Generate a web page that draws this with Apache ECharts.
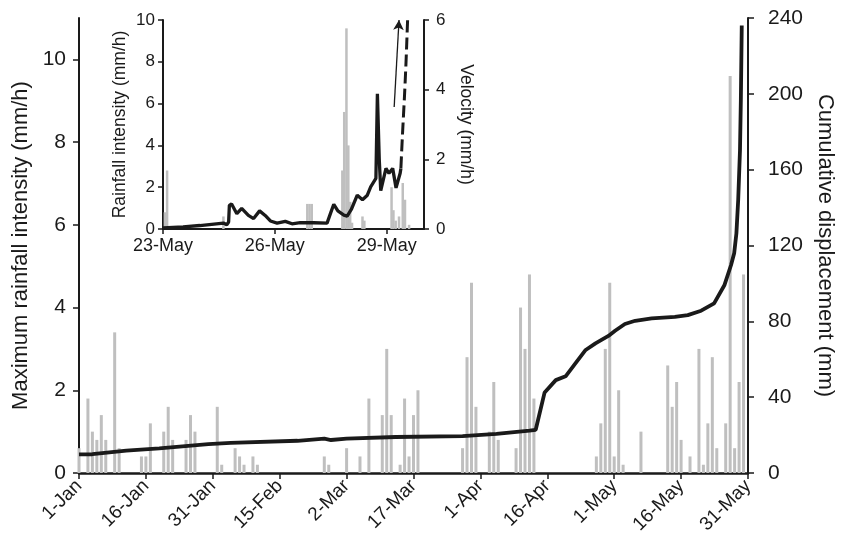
<!DOCTYPE html>
<html>
<head>
<meta charset="utf-8">
<script src="https://cdn.jsdelivr.net/npm/echarts@6/dist/echarts.min.js"></script>
<style>
  html, body { margin: 0; padding: 0; background: #fff; }
  #c { width: 844px; height: 543px; }
</style>
</head>
<body>
<div id="c"></div>
<script>
// ---- Main chart: daily maximum rainfall intensity (day of year, from 1 Jan) ----
const rainDay = [0, 2, 3, 4, 5, 6, 8, 9, 14, 15, 16, 19, 20, 21, 24, 25, 26, 31, 32, 35, 36, 37, 39, 40,
  55, 56, 60, 63, 65, 68, 69, 70, 72, 73, 74, 75, 76, 86, 87, 88, 89, 92, 93, 94, 98, 99, 100, 101, 102,
  116, 117, 118, 119, 120, 121, 122, 126, 132, 133, 134, 135, 137, 139, 140, 141, 142, 143, 145, 146, 147, 148, 149];
const rainMax = [0.6, 1.8, 1.0, 0.8, 1.4, 0.8, 3.4, 0.6, 0.4, 0.4, 1.2, 1.0, 1.6, 0.8, 0.8, 1.4, 1.0, 1.6, 0.2, 0.6, 0.4, 0.2, 0.4, 0.2,
  0.4, 0.2, 0.6, 0.4, 1.8, 1.4, 3.0, 1.4, 0.2, 1.8, 0.4, 1.4, 2.0, 0.6, 2.8, 4.6, 1.6, 1.0, 2.2, 0.8, 0.6, 4.0, 3.0, 4.8, 1.8,
  0.4, 1.2, 3.0, 4.6, 0.4, 2.0, 0.2, 1.0, 2.6, 1.6, 2.2, 0.8, 0.4, 3.0, 0.2, 1.2, 2.8, 0.6, 1.2, 9.6, 0.6, 2.2, 4.8];

// Cumulative displacement (mm)
const dispDay = [0, 3, 10.6, 18, 29, 34, 49, 55, 56.5, 60, 71, 86, 93.6, 101, 102.4, 104.4, 106.9, 109.1, 111.3, 113.6,
  115.8, 118.7, 120.2, 122.4, 124.7, 128.4, 133.6, 136.5, 139.5, 142.4, 144.7, 146.2, 146.9, 147.4, 147.8, 148.2, 148.4, 148.6];
const dispMm = [9.8, 9.9, 11.8, 13, 15.2, 15.9, 17, 18.1, 17.4, 18.1, 19, 19.5, 20.6, 22.4, 22.8, 42.5, 49, 51, 57.8, 64.9,
  68.4, 72.3, 75, 78.6, 80.3, 81.6, 82.4, 83.3, 85.6, 89.5, 99, 109.7, 115.9, 126.4, 144, 170, 197, 236];

const dateTicks = ['1-Jan', '16-Jan', '31-Jan', '15-Feb', '2-Mar', '17-Mar', '1-Apr', '16-Apr', '1-May', '16-May', '31-May'];

// ---- Inset: hourly rainfall and velocity (days after 23 May, 00:00) ----
const insetRainDay = [0.05, 0.11, 1.62, 3.87, 3.93, 3.99, 4.81, 4.86, 4.92, 4.97, 5.02, 5.07, 5.35, 5.40,
  6.13, 6.18, 6.24, 6.33, 6.43, 6.49, 6.60];
const insetRainVal = [0.8, 2.8, 0.6, 1.2, 1.2, 1.2, 2.8, 5.6, 9.6, 4.0, 1.3, 0.3, 0.6, 0.4,
  2.0, 0.9, 0.4, 0.6, 2.2, 1.4, 0.2];

const velDay = [0, 0.54, 0.99, 1.62, 1.71, 1.76, 1.78, 1.84, 1.89, 1.98, 2.11, 2.29, 2.43, 2.59, 2.74, 2.88, 3.06, 3.28,
  3.46, 3.68, 4.04, 4.4, 4.49, 4.58, 4.69, 4.85, 4.94, 5.05, 5.21, 5.35, 5.48, 5.57, 5.71, 5.75, 5.80, 5.84, 5.88, 5.98,
  6.06, 6.16, 6.25, 6.36, 6.38];
const velVal = [0.03, 0.06, 0.1, 0.17, 0.12, 0.2, 0.68, 0.72, 0.71, 0.44, 0.59, 0.39, 0.3, 0.52, 0.39, 0.23, 0.17, 0.22,
  0.15, 0.18, 0.18, 0.17, 0.44, 0.71, 0.52, 0.40, 0.37, 0.56, 0.97, 0.84, 0.97, 1.21, 1.45, 3.88, 2.0, 1.1, 1.06, 1.74,
  1.6, 1.74, 1.18, 1.6, 1.74];
// Extrapolated acceleration (dashed)
const velDashDay = [6.38, 6.42, 6.48, 6.52, 6.56];
const velDashVal = [1.74, 2.65, 3.89, 4.85, 6.0];
// Arrow marking the accelerating trend
const arrowFrom = [6.2, 3.5];
const arrowTo = [6.33, 6.0];

const insetTicks = ['23-May', '26-May', '29-May'];

const zip = (a, b) => a.map((v, i) => [v, b[i]]);

const FONT = '"Liberation Sans", Arial, sans-serif';
const INK = '#1a1a1a';
const BAR = '#bfbfbf';

const axisLineStyle = (w) => ({ show: true, lineStyle: { color: INK, width: w } });
const tick = (len) => ({ show: true, length: len, lineStyle: { color: INK, width: 1.5 } });

const chart = echarts.init(document.getElementById('c'));
chart.setOption({
  animation: false,
  backgroundColor: '#fff',
  textStyle: { fontFamily: FONT, color: INK },
  grid: [
    { left: 79, right: 90, top: 18, bottom: 70 },
    { left: 163, right: 420, top: 20, bottom: 314 }
  ],
  xAxis: [
    {
      gridIndex: 0, type: 'value', min: 0, max: 150, interval: 15,
      axisLine: axisLineStyle(2.5), axisTick: tick(6), splitLine: { show: false },
      axisLabel: {
        rotate: 45, margin: 10, fontSize: 19, color: INK, fontFamily: FONT,
        formatter: (v) => dateTicks[Math.round(v / 15)] || ''
      }
    },
    {
      gridIndex: 1, type: 'value', min: 0, max: 7,
      axisLine: axisLineStyle(2), splitLine: { show: false },
      axisTick: { show: true, length: 5, lineStyle: { color: INK, width: 1.5 }, customValues: [0, 3, 6] },
      axisLabel: {
        margin: 8, fontSize: 18, color: INK, fontFamily: FONT, customValues: [0, 3, 6],
        formatter: (v) => insetTicks[Math.round(v / 3)] || ''
      }
    }
  ],
  yAxis: [
    {
      gridIndex: 0, type: 'value', position: 'left', min: 0, max: 11,
      name: 'Maximum rainfall intensity (mm/h)', nameLocation: 'middle', nameGap: 40, nameRotate: 90,
      nameTextStyle: { fontSize: 22, color: INK, fontFamily: FONT },
      axisLine: axisLineStyle(2), splitLine: { show: false },
      axisTick: { show: true, length: 6, lineStyle: { color: INK, width: 1.5 }, customValues: [0, 2, 4, 6, 8, 10] },
      axisLabel: { margin: 13, fontSize: 21, color: INK, fontFamily: FONT, customValues: [0, 2, 4, 6, 8, 10] }
    },
    {
      gridIndex: 0, type: 'value', position: 'right', min: 0, max: 240, interval: 40,
      name: 'Cumulative displacement (mm)', nameLocation: 'middle', nameGap: 66, nameRotate: -90,
      nameTextStyle: { fontSize: 22, color: INK, fontFamily: FONT },
      axisLine: axisLineStyle(2), axisTick: tick(6), splitLine: { show: false },
      axisLabel: { margin: 20, fontSize: 21, color: INK, fontFamily: FONT }
    },
    {
      gridIndex: 1, type: 'value', position: 'left', min: 0, max: 10, interval: 2,
      name: 'Rainfall intensity (mm/h)', nameLocation: 'middle', nameGap: 34, nameRotate: 90,
      nameTextStyle: { fontSize: 17.5, color: INK, fontFamily: FONT },
      axisLine: axisLineStyle(2), axisTick: tick(5), splitLine: { show: false },
      axisLabel: { margin: 8, fontSize: 17, color: INK, fontFamily: FONT }
    },
    {
      gridIndex: 1, type: 'value', position: 'right', min: 0, max: 6, interval: 2,
      name: 'Velocity (mm/h)', nameLocation: 'middle', nameGap: 33, nameRotate: -90,
      nameTextStyle: { fontSize: 17.5, color: INK, fontFamily: FONT },
      axisLine: axisLineStyle(2), axisTick: tick(5), splitLine: { show: false },
      axisLabel: { margin: 12, fontSize: 17, color: INK, fontFamily: FONT }
    }
  ],
  series: [
    {
      name: 'Maximum rainfall intensity', type: 'bar', xAxisIndex: 0, yAxisIndex: 0,
      barWidth: 3, itemStyle: { color: BAR }, data: zip(rainDay, rainMax), z: 1
    },
    {
      name: 'Cumulative displacement', type: 'line', xAxisIndex: 0, yAxisIndex: 1,
      showSymbol: false, symbol: 'none', lineStyle: { color: INK, width: 3.8 },
      data: zip(dispDay, dispMm), z: 3
    },
    {
      name: 'Rainfall intensity', type: 'bar', xAxisIndex: 1, yAxisIndex: 2,
      barWidth: 2.5, itemStyle: { color: BAR }, data: zip(insetRainDay, insetRainVal), z: 1
    },
    {
      name: 'Velocity', type: 'line', xAxisIndex: 1, yAxisIndex: 3,
      showSymbol: false, symbol: 'none', lineStyle: { color: INK, width: 3.3 },
      data: zip(velDay, velVal), z: 3
    },
    {
      name: 'Velocity trend', type: 'line', xAxisIndex: 1, yAxisIndex: 3,
      showSymbol: false, symbol: 'none', smooth: 0.3,
      lineStyle: { color: INK, width: 3, type: [12, 5] },
      data: zip(velDashDay, velDashVal), z: 3,
      markLine: {
        silent: true, symbol: ['none', 'arrow'], symbolSize: [8, 10],
        label: { show: false },
        lineStyle: { color: INK, width: 1.3, type: 'solid' },
        data: [[{ coord: arrowFrom }, { coord: arrowTo }]]
      }
    }
  ]
});
</script>
</body>
</html>
